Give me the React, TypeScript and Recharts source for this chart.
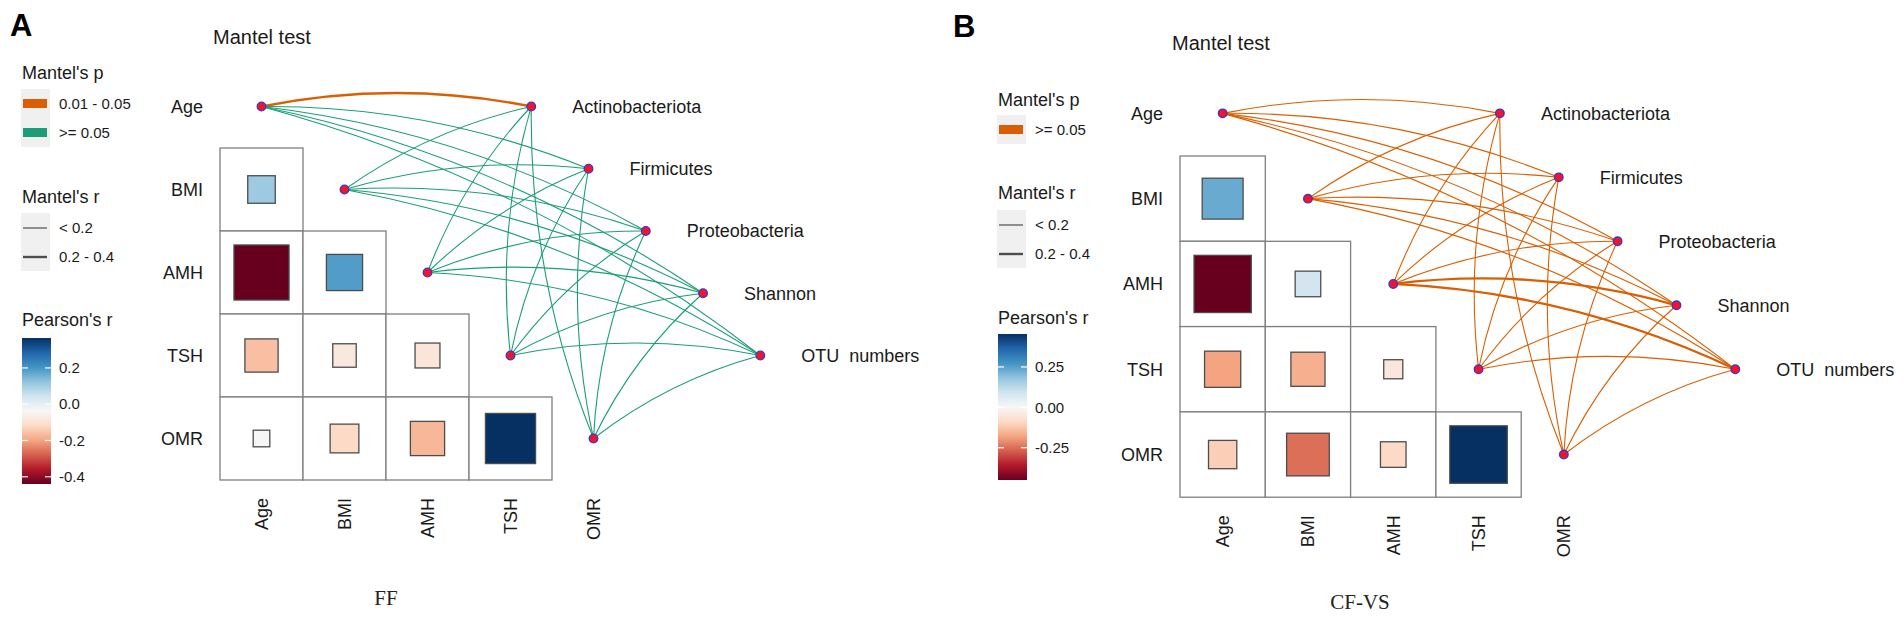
import React from "react";
import { ScatterChart, Scatter, XAxis, YAxis, ZAxis } from "recharts";

const SANS = "'Liberation Sans', Arial, Helvetica, sans-serif";
const SERIF = "'Liberation Serif', 'Times New Roman', serif";
const INK = "#1a1a1a";

// variables
const envVars = ["Age", "BMI", "AMH", "TSH", "OMR"];
const specVars = ["Actinobacteriota", "Firmicutes", "Proteobacteria", "Shannon", "OTU  numbers"];

// Pearson's r, lower triangle (row = env var, columns left of the diagonal)
const pearsonFF = [
  [],
  [0.11],
  [-0.44, 0.19],
  [-0.16, -0.08, -0.09],
  [-0.04, -0.12, -0.17, 0.365],
];
const pearsonCFVS = [
  [],
  [0.23],
  [-0.45, 0.09],
  [-0.18, -0.16, -0.05],
  [-0.11, -0.25, -0.09, 0.454],
];

// Mantel test classes, rows = env var, cols = spec
const mantelPFF = [
  ["0.01 - 0.05", ">= 0.05", ">= 0.05", ">= 0.05", ">= 0.05"],
  [">= 0.05", ">= 0.05", ">= 0.05", ">= 0.05", ">= 0.05"],
  [">= 0.05", ">= 0.05", ">= 0.05", ">= 0.05", ">= 0.05"],
  [">= 0.05", ">= 0.05", ">= 0.05", ">= 0.05", ">= 0.05"],
  [">= 0.05", ">= 0.05", ">= 0.05", ">= 0.05", ">= 0.05"],
];
const mantelRFF = [
  ["0.2 - 0.4", "< 0.2", "< 0.2", "< 0.2", "< 0.2"],
  ["< 0.2", "< 0.2", "< 0.2", "< 0.2", "< 0.2"],
  ["< 0.2", "< 0.2", "< 0.2", "< 0.2", "< 0.2"],
  ["< 0.2", "< 0.2", "< 0.2", "< 0.2", "< 0.2"],
  ["< 0.2", "< 0.2", "< 0.2", "< 0.2", "< 0.2"],
];
const mantelPCFVS = [
  [">= 0.05", ">= 0.05", ">= 0.05", ">= 0.05", ">= 0.05"],
  [">= 0.05", ">= 0.05", ">= 0.05", ">= 0.05", ">= 0.05"],
  [">= 0.05", ">= 0.05", ">= 0.05", ">= 0.05", ">= 0.05"],
  [">= 0.05", ">= 0.05", ">= 0.05", ">= 0.05", ">= 0.05"],
  [">= 0.05", ">= 0.05", ">= 0.05", ">= 0.05", ">= 0.05"],
];
const mantelRCFVS = [
  ["< 0.2", "< 0.2", "< 0.2", "< 0.2", "< 0.2"],
  ["< 0.2", "< 0.2", "< 0.2", "< 0.2", "< 0.2"],
  ["< 0.2", "< 0.2", "< 0.2", "0.2 - 0.4", "0.2 - 0.4"],
  ["< 0.2", "< 0.2", "< 0.2", "< 0.2", "< 0.2"],
  ["< 0.2", "< 0.2", "< 0.2", "< 0.2", "< 0.2"],
];

// legend levels
const pLevelsFF = ["0.01 - 0.05", ">= 0.05"];
const pLevelsCFVS = [">= 0.05"];
const rLevels = ["< 0.2", "0.2 - 0.4"];
const barTicksFF = [0.2, 0, -0.2, -0.4];
const barLabelsFF = ["0.2", "0.0", "-0.2", "-0.4"];
const barTicksCFVS = [0.25, 0, -0.25];
const barLabelsCFVS = ["0.25", "0.00", "-0.25"];

const pColorsFF = { "0.01 - 0.05": "#D95F02", ">= 0.05": "#1B9E77" };
const pColorsCFVS = { ">= 0.05": "#D95F02" };
const rWidths = { "< 0.2": 1.1, "0.2 - 0.4": 2.3 };

const RDBU = ["#67001F", "#B2182B", "#D6604D", "#F4A582", "#FDDBC7", "#F7F7F7",
  "#D1E5F0", "#92C5DE", "#4393C3", "#2166AC", "#053061"];

function hexRgb(h: string) {
  const n = parseInt(h.slice(1), 16);
  return [(n >> 16) & 255, (n >> 8) & 255, n & 255];
}
function rdbu(t: number) {
  const tt = Math.max(0, Math.min(1, t)) * (RDBU.length - 1);
  const i = Math.min(Math.floor(tt), RDBU.length - 2);
  const f = tt - i;
  const a = hexRgb(RDBU[i]);
  const b = hexRgb(RDBU[i + 1]);
  return `rgb(${a.map((v, k) => Math.round(v + (b[k] - v) * f)).join(",")})`;
}

const H = 617;
const X_AXIS_H = 60;
const Y_AXIS_W = 60;
const ROW_TICKS = [0.5, 1.5, 2.5, 3.5, 4.5];

const RowTick = (p: any) => (
  <text x={p.x} y={p.y} dy="0.35em" textAnchor="end" fontSize={18} fill={INK} fontFamily={SANS}>
    {envVars[Math.floor(p.payload.value)]}
  </text>
);
const ColTick = (p: any) => (
  <text x={p.x} y={p.y} dy="0.35em" textAnchor="end" fontSize={18} fill={INK} fontFamily={SANS}
    transform={`rotate(-90 ${p.x} ${p.y})`}>
    {envVars[Math.floor(p.payload.value)]}
  </text>
);

const Empty = () => <g />;

const CellShape = (p: any) => {
  const s = Math.sqrt(p.size);
  return <rect x={p.cx - s / 2} y={p.cy - s / 2} width={s} height={s} fill="#fff" stroke="#7f7f7f" strokeWidth={1.3} />;
};

const NodeShape = (p: any) => (
  <circle cx={p.cx} cy={p.cy} r={4.3} fill="#F0142D" stroke="#3A35C8" strokeWidth={1.3} />
);
const SpecShape = (p: any) => (
  <g>
    <circle cx={p.cx} cy={p.cy} r={4.3} fill="#F0142D" stroke="#3A35C8" strokeWidth={1.3} />
    <text x={p.cx + 41} y={p.cy} dy="0.35em" fontSize={18} fill={INK} fontFamily={SANS} style={{ whiteSpace: "pre" }}>
      {p.payload.name}
    </text>
  </g>
);

function linkCurve(color: string, width: number) {
  return (lp: any) => {
    const pts = lp.points;
    if (!pts || pts.length < 2 || pts[0].x == null) return <g />;
    const a = pts[0];
    const b = pts[1];
    const dx = b.x - a.x;
    const dy = b.y - a.y;
    const k = 0.1;
    const qx = (a.x + b.x) / 2 + dy * k;
    const qy = (a.y + b.y) / 2 - dx * k;
    return <path d={`M${a.x},${a.y} Q${qx},${qy} ${b.x},${b.y}`} fill="none" stroke={color} strokeWidth={width} />;
  };
}

function MantelPanel(props: any) {
  const { left, width, gridLeft, gridTop, cell, xUnits, pearson, mantelP, mantelR, pColors } = props;
  const flat = pearson.flat();
  const lo = Math.min(...flat);
  const hi = Math.max(...flat);

  const cells: any[] = [];
  const squares: any[] = [];
  pearson.forEach((row: number[], i: number) =>
    row.forEach((r: number, j: number) => {
      cells.push({ x: j + 0.5, y: i + 0.5, z: 1 });
      squares.push({ x: j + 0.5, y: i + 0.5, z: Math.abs(r), r });
    })
  );
  const envNodes = envVars.map((name, i) => ({ x: i + 0.5, y: i + 0.5, name }));
  const specNodes = specVars.map((name, k) => ({ x: 3.75 + 0.69 * k, y: 0.5 + 0.75 * k, name }));

  const SquareShape = (p: any) => {
    const s = Math.sqrt(p.size);
    const fill = rdbu((p.payload.r - lo) / (hi - lo));
    return <rect x={p.cx - s / 2} y={p.cy - s / 2} width={s} height={s} fill={fill} stroke="#4d4d4d" strokeWidth={1.3} />;
  };

  const margin = {
    top: gridTop,
    left: gridLeft - Y_AXIS_W,
    right: width - gridLeft - xUnits * cell,
    bottom: H - gridTop - 5 * cell - X_AXIS_H,
  };

  return (
    <div style={{ position: "absolute", left, top: 0 }}>
      <ScatterChart width={width} height={H} margin={margin}>
        <XAxis type="number" dataKey="x" domain={[0, xUnits]} ticks={ROW_TICKS} interval={0}
          height={X_AXIS_H} tickLine={false} axisLine={false} tickMargin={12} tick={ColTick} />
        <YAxis type="number" dataKey="y" domain={[0, 5]} reversed ticks={ROW_TICKS} interval={0}
          width={Y_AXIS_W} tickLine={false} axisLine={false} tickMargin={11} tick={RowTick} />
        <ZAxis zAxisId="sq" type="number" dataKey="z" domain={[0, 1]} range={[0, cell * cell]} />
        <Scatter data={cells} zAxisId="sq" shape={CellShape} isAnimationActive={false} />
        <Scatter data={squares} zAxisId="sq" shape={SquareShape} isAnimationActive={false} />
        {envNodes.map((e, i) =>
          specNodes.map((s, k) => {
            const color = pColors[mantelP[i][k]];
            const w = rWidths[mantelR[i][k]];
            return (
              <Scatter key={`l${i}-${k}`} data={[e, s]} fill={color} shape={Empty}
                line={linkCurve(color, w)} lineType="joint" isAnimationActive={false} />
            );
          })
        )}
        <Scatter data={envNodes} shape={NodeShape} isAnimationActive={false} />
        <Scatter data={specNodes} shape={SpecShape} isAnimationActive={false} />
      </ScatterChart>
    </div>
  );
}

function Legends(props: any) {
  const { id, x, pTitleY, pBgY, pLevels, pColors, rTitleY, rBgY, cTitleY, barTop, barH, lo, hi, ticks, labels } = props;
  const tx = x + 37;
  const barY = (v: number) => barTop + ((hi - v) / (hi - lo)) * barH;
  return (
    <g fontFamily={SANS} fill={INK}>
      <defs>
        <linearGradient id={id} x1="0" y1="1" x2="0" y2="0">
          {RDBU.map((c, i) => (
            <stop key={i} offset={`${(i / (RDBU.length - 1)) * 100}%`} stopColor={c} />
          ))}
        </linearGradient>
      </defs>
      <text x={x} y={pTitleY} dy="0.35em" fontSize={18}>Mantel's p</text>
      <rect x={x - 1} y={pBgY} width={29} height={29 * pLevels.length} fill="#F0F0F0" />
      {pLevels.map((lv: string, i: number) => (
        <g key={lv}>
          <rect x={x + 1} y={pBgY + 29 * i + 10} width={24} height={9} fill={pColors[lv]} />
          <text x={tx} y={pBgY + 29 * i + 15} dy="0.35em" fontSize={15}>{lv}</text>
        </g>
      ))}
      <text x={x} y={rTitleY} dy="0.35em" fontSize={18}>Mantel's r</text>
      <rect x={x - 1} y={rBgY} width={29} height={58} fill="#F0F0F0" />
      {rLevels.map((lv: string, i: number) => (
        <g key={lv}>
          <line x1={x + 1} x2={x + 25} y1={rBgY + 15 + 29 * i} y2={rBgY + 15 + 29 * i} stroke="#4d4d4d" strokeWidth={i === 0 ? 1.2 : 2.4} />
          <text x={tx} y={rBgY + 15 + 29 * i} dy="0.35em" fontSize={15}>{lv}</text>
        </g>
      ))}
      <text x={x} y={cTitleY} dy="0.35em" fontSize={18}>Pearson's r</text>
      <rect x={x} y={barTop} width={29} height={barH} fill={`url(#${id})`} />
      {ticks.map((v: number, i: number) => (
        <g key={v}>
          <line x1={x} x2={x + 6} y1={barY(v)} y2={barY(v)} stroke="#fff" strokeWidth={1.2} />
          <line x1={x + 23} x2={x + 29} y1={barY(v)} y2={barY(v)} stroke="#fff" strokeWidth={1.2} />
          <text x={tx} y={barY(v)} dy="0.35em" fontSize={15}>{labels[i]}</text>
        </g>
      ))}
    </g>
  );
}

export default function App() {
  const flatFF = pearsonFF.flat();
  const flatCF = pearsonCFVS.flat();
  return (
    <div style={{ position: "absolute", left: 0, top: 0, width: 1904, height: H, background: "#fff" }}>
      <MantelPanel left={0} width={945} gridLeft={220} gridTop={65} cell={83} xUnits={8.6}
        pearson={pearsonFF} mantelP={mantelPFF} mantelR={mantelRFF} pColors={pColorsFF} />
      <MantelPanel left={950} width={954} gridLeft={230} gridTop={70.7} cell={85.3} xUnits={8.4}
        pearson={pearsonCFVS} mantelP={mantelPCFVS} mantelR={mantelRCFVS} pColors={pColorsCFVS} />
      <svg width={1904} height={H} style={{ position: "absolute", left: 0, top: 0, pointerEvents: "none" }}>
        <text x={10} y={25} dy="0.35em" fontSize={31} fontWeight="bold" fontFamily={SANS} fill="#000">A</text>
        <text x={953} y={26} dy="0.35em" fontSize={31} fontWeight="bold" fontFamily={SANS} fill="#000">B</text>
        <text x={213} y={37} dy="0.35em" fontSize={20} fontFamily={SANS} fill={INK}>Mantel test</text>
        <text x={1172} y={43} dy="0.35em" fontSize={20} fontFamily={SANS} fill={INK}>Mantel test</text>
        <Legends id="gradFF" x={22} pTitleY={73} pBgY={89} pLevels={pLevelsFF} pColors={pColorsFF}
          rTitleY={197} rBgY={213} cTitleY={320} barTop={338} barH={146}
          lo={Math.min(...flatFF)} hi={Math.max(...flatFF)} ticks={barTicksFF} labels={barLabelsFF} />
        <Legends id="gradCF" x={998} pTitleY={100} pBgY={115} pLevels={pLevelsCFVS} pColors={pColorsCFVS}
          rTitleY={193} rBgY={210} cTitleY={318} barTop={334} barH={146}
          lo={Math.min(...flatCF)} hi={Math.max(...flatCF)} ticks={barTicksCFVS} labels={barLabelsCFVS} />
        <text x={386} y={598} dy="0.35em" textAnchor="middle" fontSize={21} fontFamily={SERIF} fill="#222">FF</text>
        <text x={1360} y={602} dy="0.35em" textAnchor="middle" fontSize={21} fontFamily={SERIF} fill="#222">CF-VS</text>
      </svg>
    </div>
  );
}
